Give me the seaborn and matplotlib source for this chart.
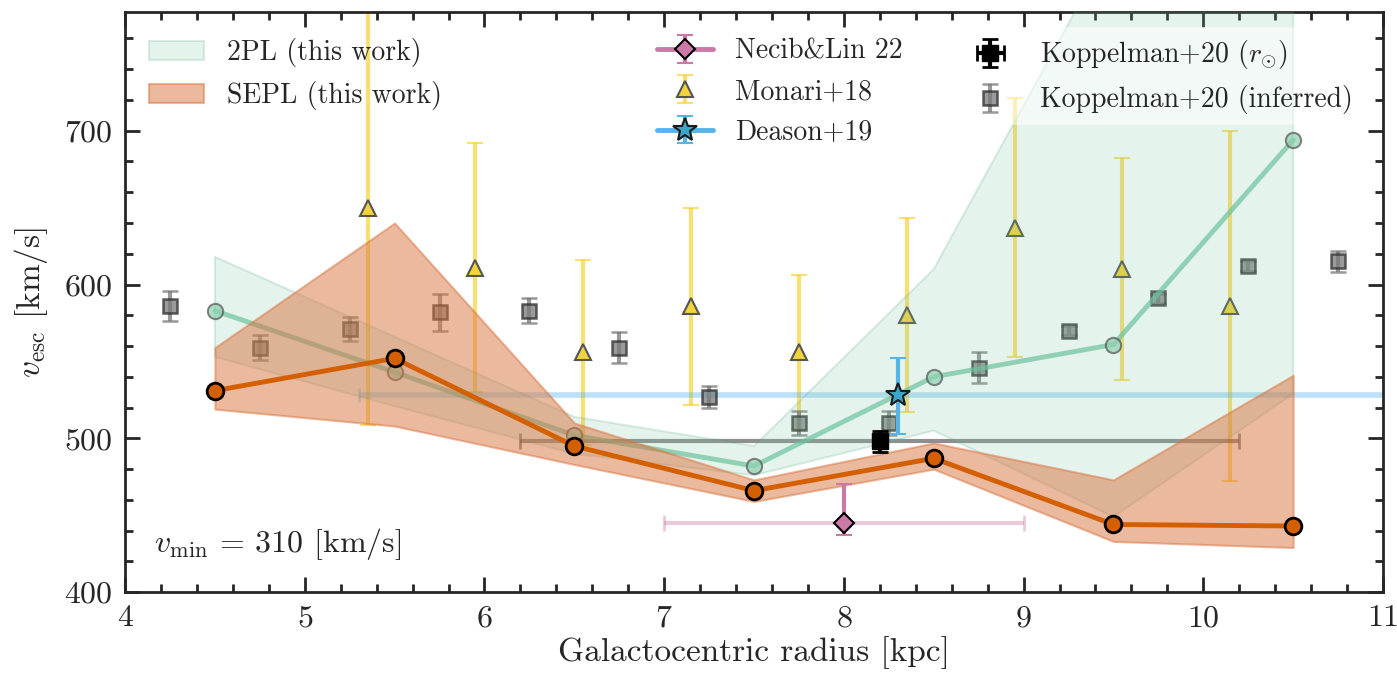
import numpy as np
import pandas as pd
import seaborn as sns
import matplotlib.pyplot as plt
from matplotlib.patches import Patch
from matplotlib.ticker import MultipleLocator

# radial bins used for the fits
r_bins = [4.5, 5.5, 6.5, 7.5, 8.5, 9.5, 10.5]

# 2PL fit (median + band)
vesc_2pl = [583, 543, 502, 482, 540, 561, 694]
lo_2pl = [553, 521, 490, 476, 505, 449, 529]
hi_2pl = [618, 566, 514, 495, 610, 823, 950]

# SEPL fit (median + band)
vesc_sepl = [531, 552, 495, 466, 487, 444, 443]
lo_sepl = [519, 508, 483, 459, 480, 433, 429]
hi_sepl = [559, 640, 510, 473, 497, 473, 541]

# Monari+18
r_mon = [5.35, 5.95, 6.55, 7.15, 7.75, 8.35, 8.95, 9.55, 10.15]
v_mon = [650, 611, 556, 586, 556, 580, 637, 610, 586]
e_mon = [141, 81, 60, 64, 50, 63, 84, 72, 114]

# Koppelman+20 (inferred)
r_kop = [4.25, 4.75, 5.25, 5.75, 6.25, 6.75, 7.25, 7.75, 8.25, 8.75, 9.25, 9.75, 10.25, 10.75]
v_kop = [586, 559, 571, 582, 583, 559, 527, 510, 510, 546, 570, 591, 612, 615]
e_kop = [10, 8, 8, 12, 8, 10, 7, 8, 8, 10, 3, 3, 3, 7]

# single measurements
r_kop_sun, v_kop_sun, ex_kop_sun, ey_kop_sun = 8.2, 498, 2.0, 7
r_dea, v_dea, ex_dea, ey_dea = 8.3, 528, 3.0, [[25], [24]]
r_nec, v_nec, ex_nec, ey_nec = 8.0, 445, 1.0, [[8], [25]]

sns.set_style('ticks')
plt.rcParams['font.family'] = 'serif'
plt.rcParams['font.serif'] = ['cmr10', 'DejaVu Serif']
plt.rcParams['mathtext.fontset'] = 'cm'
plt.rcParams['axes.formatter.use_mathtext'] = True
plt.rcParams['axes.unicode_minus'] = False

fig, ax = plt.subplots(figsize=(13.97, 6.83), dpi=100)
fig.subplots_adjust(left=0.0895, right=0.99, top=0.982, bottom=0.133)

c_sepl = '#d35f00'
c_2pl = '#6cc29c'
c_mon = '#f7cb15'

# errorbars (drawn below the bands)
mon = ax.errorbar(r_mon, v_mon, yerr=e_mon, fmt='^', ms=12, mfc='#f2d33c', mec='#555555', mew=1.5,
                  ecolor=c_mon, elinewidth=3, capsize=6, capthick=2, zorder=2, label='Monari+18')
for l in mon[2]:
    l.set_alpha(0.6)
for c in mon[1]:
    c.set_alpha(0.6)

kop = ax.errorbar(r_kop, v_kop, yerr=e_kop, fmt='s', ms=10, mfc='#7a7a7a', mec='#2a2a2a', mew=1.8,
                  ecolor='#777777', elinewidth=3, capsize=6, capthick=2, alpha=0.75, zorder=2,
                  label='Koppelman+20 (inferred)')

ax.errorbar(r_kop_sun, v_kop_sun, xerr=ex_kop_sun, fmt='none', ecolor='#333333', elinewidth=3,
            capsize=6, capthick=2, alpha=0.55, zorder=2)
ksun = ax.errorbar(r_kop_sun, v_kop_sun, yerr=ey_kop_sun, xerr=0.0001, fmt='s', ms=11, mfc='black',
                   mec='black', ecolor='black', elinewidth=3, capsize=6, capthick=2, zorder=6,
                   label=r'Koppelman+20 ($r_{\odot}$)')

ax.errorbar(r_dea, v_dea, xerr=ex_dea, fmt='none', ecolor='#56b4e9', elinewidth=4, capsize=5,
            capthick=2, alpha=0.4, zorder=2)
dea = ax.errorbar(r_dea, v_dea, yerr=ey_dea, fmt='*', ms=18, mfc='#3aa6c9', mec='#1a1a1a', mew=1.5,
                  ecolor='#56b4e9', elinewidth=3, capsize=6, capthick=2, ls='-', lw=3.5,
                  color='#56b4e9', zorder=7, label='Deason+19')

ax.errorbar(r_nec, v_nec, xerr=ex_nec, fmt='none', ecolor='#cc79a7', elinewidth=3, capsize=6,
            capthick=2, alpha=0.4, zorder=2)
nec = ax.errorbar(r_nec, v_nec, yerr=ey_nec, fmt='D', ms=10, mfc='#cc79a7', mec='black', mew=1.5,
                  ecolor='#cc79a7', elinewidth=3, capsize=6, capthick=2, ls='-', lw=3.5,
                  color='#cc79a7', zorder=7, label='Necib&Lin 22')

# 2PL band and line
ax.fill_between(r_bins, lo_2pl, hi_2pl, facecolor='#7fc5a5', edgecolor='#4fa882', alpha=0.2,
                lw=1.5, zorder=3)
df2 = pd.DataFrame({'r': r_bins, 'v': vesc_2pl})
sns.lineplot(data=df2, x='r', y='v', ax=ax, color=c_2pl, lw=3.5, alpha=0.7, marker='o', ms=11,
             markerfacecolor='#8fd0b0', markeredgecolor='#555555', markeredgewidth=1.5, zorder=4)

# SEPL band and line
ax.fill_between(r_bins, lo_sepl, hi_sepl, facecolor='#d9743f', edgecolor='#d9743f', alpha=0.5,
                lw=1.5, zorder=5)
dfs = pd.DataFrame({'r': r_bins, 'v': vesc_sepl})
sns.lineplot(data=dfs, x='r', y='v', ax=ax, color=c_sepl, lw=3.5, marker='o', ms=12,
             markerfacecolor=c_sepl, markeredgecolor='black', markeredgewidth=2, zorder=8)

ax.set_xlim(4, 11)
ax.set_ylim(400, 777)
ax.xaxis.set_major_locator(MultipleLocator(1))
ax.xaxis.set_minor_locator(MultipleLocator(0.2))
ax.yaxis.set_major_locator(MultipleLocator(100))
ax.yaxis.set_minor_locator(MultipleLocator(20))
ax.tick_params(which='both', direction='in', top=True, right=True, width=2, labelsize=23, pad=9)
ax.tick_params(which='major', length=11)
ax.tick_params(which='minor', length=6)
for s in ax.spines.values():
    s.set_linewidth(2)

ax.set_xlabel('Galactocentric radius [kpc]', fontsize=24, labelpad=3)
ax.set_ylabel(r'$v_{\rm esc}$ [km/s]', fontsize=24, labelpad=10)
ax.text(0.023, 0.07, r'$v_{\rm min}$ = 310 [km/s]', transform=ax.transAxes, fontsize=23, zorder=10)

# legends
fs = 20
h1 = [Patch(facecolor='#7fc5a5', edgecolor='#4fa882', alpha=0.2, lw=1.5),
      Patch(facecolor='#d9743f', edgecolor='#d9743f', alpha=0.5, lw=1.5)]
leg1 = ax.legend(h1, ['2PL (this work)', 'SEPL (this work)'], loc='upper left',
                 bbox_to_anchor=(0.01, 0.974), borderaxespad=0, frameon=False, fontsize=fs,
                 labelspacing=0.5)
ax.add_artist(leg1)
leg2 = ax.legend([nec, mon, dea], ['Necib&Lin 22', 'Monari+18', 'Deason+19'], loc='upper left',
                 bbox_to_anchor=(0.414, 0.974), borderaxespad=0, frameon=False, fontsize=fs,
                 labelspacing=0.5)
ax.add_artist(leg2)
leg3 = ax.legend([ksun, kop], [r'Koppelman+20 ($r_{\odot}$)', 'Koppelman+20 (inferred)'],
                 loc='upper left', bbox_to_anchor=(0.657, 0.974), borderaxespad=0, frameon=True,
                 framealpha=0.5, fancybox=False, edgecolor='none', fontsize=fs, labelspacing=0.5)
for lg in (leg1, leg2, leg3):
    lg.set_zorder(20)

fig.savefig('out.png', dpi=100)
